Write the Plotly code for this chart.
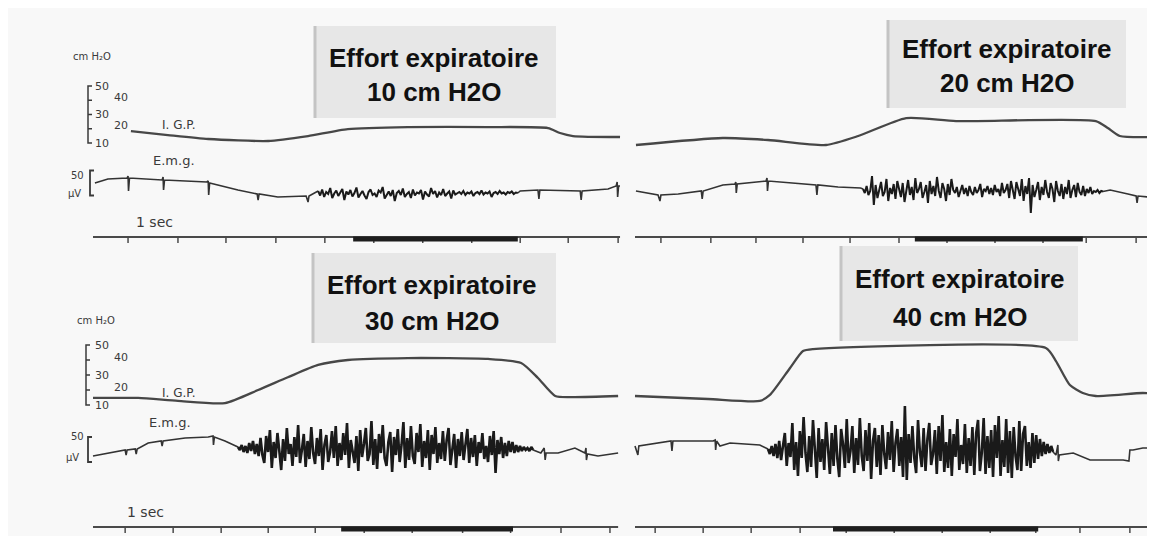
import plotly.graph_objects as go

W, H = 1155, 536

# ---------------- data (time in s, pressure in cm H2O, EMG in µV) ----------------
TITLE_TEXT = "Effort expiratoire"
EFFORTS = ["10 cm H2O", "20 cm H2O", "30 cm H2O", "40 cm H2O"]
PRESSURE_SCALE = [10, 20, 30, 40, 50]
EMG_SCALE = 50

# I.G.P. traces
igp_t_1 = [0.79, 1.56, 2.40, 3.65, 4.48, 5.31, 6.56, 8.23, 9.48, 9.73, 10.0, 10.98]
igp_v_1 = [18.4, 15.6, 12.8, 11.4, 14.9, 19.8, 21.2, 21.2, 20.5, 17.0, 14.9, 14.2]
igp_t_2 = [0.02, 1.83, 2.77, 3.98, 4.65, 5.65, 6.69, 9.60, 9.85, 10.10, 10.90]
igp_v_2 = [8.6, 13.5, 12.1, 8.6, 14.9, 27.5, 25.4, 25.4, 20.5, 14.9, 14.2]
igp_t_3 = [0, 0.94, 1.77, 2.75, 3.44, 4.06, 4.69, 5.31, 6.56, 8.23, 8.92, 9.27, 9.63, 10.0, 10.94]
igp_v_3 = [14.7, 14.7, 12.7, 11.3, 20.0, 28.5, 36.7, 40.0, 41.3, 40.7, 38.0, 28.0, 16.0, 15.3, 16.0]
igp_t_4 = [0, 1.52, 2.60, 2.81, 3.23, 3.50, 3.71, 8.56, 8.77, 9.06, 9.33, 9.60, 10.58, 10.90]
igp_v_4 = [16, 14, 12.7, 16.7, 34.7, 46, 47.3, 48, 39.3, 23.3, 18, 16, 18, 17.3]

# E.m.g. baseline (outside the burst, incl. the small time pips)
emg_t_1 = [0.04, 0.31, 0.71, 0.73, 0.74, 0.76, 1.44, 1.46, 1.47, 1.49, 2.37, 2.40, 2.41, 2.43,
           3.02, 3.42, 3.44, 3.46, 3.85, 4.44, 4.48, 4.50, 8.9, 9.27, 9.29, 9.31, 10.15, 10.17,
           10.19, 10.73, 10.9, 10.92, 10.93, 10.95, 10.98]
emg_v_1 = [10, 18, 20, 24, -6, 20, 16, 22, -4, 16, 12, 14, -14, 10, -4, -12, -24, -12, -18, -16,
           -28, -16, -6, -4, -22, -4, -6, -24, -6, -2, 4, 12, -18, 4, 4]
emg_t_2 = [0.02, 0.48, 0.52, 0.54, 0.9, 1.38, 1.40, 1.42, 1.83, 2.08, 2.10, 2.11, 2.13, 2.73,
           2.75, 2.76, 2.78, 3.29, 3.77, 3.79, 3.81, 4.23, 4.70, 9.80, 9.90, 10.27, 10.44, 10.46,
           10.48, 10.9]
emg_v_2 = [-6, -14, -26, -14, -12, -6, -22, -6, 6, 8, 12, -10, 8, 14, 20, -6, 14, 10, 6, -14, 6,
           2, 0, -6, -4, -12, -16, -30, -16, -20]
emg_t_3 = [0, 0.31, 0.67, 0.69, 0.71, 0.88, 0.90, 0.92, 1.15, 1.42, 1.44, 1.46, 1.92, 2.40, 2.50,
           2.51, 2.53, 2.75, 2.96, 9.33, 9.40, 9.42, 9.44, 9.69, 10.04, 10.25, 10.27, 10.28, 10.30,
           10.52, 10.94]
emg_v_3 = [-16, -10, -4, -14, -4, -2, -12, -2, 10, 14, 4, 14, 20, 22, 24, 6, 22, 14, 4, -10, 0,
           -24, -10, -10, 0, -10, 0, -24, -12, -16, -10]
emg_t_4 = [0, 0.06, 0.08, 0.44, 0.75, 0.77, 0.79, 1.63, 1.67, 1.68, 1.70, 1.77, 1.98, 2.60, 8.77,
           8.81, 8.82, 8.84, 9.13, 9.48, 10.17, 10.29, 10.31, 10.375, 10.58, 10.9]
emg_v_4 = [4, -14, 4, 10, 14, -6, 14, 14, 16, -4, 14, 4, 10, 6, -14, 6, -26, -14, -10, -24, -24,
           -26, -4, -4, 0, 0]

# E.m.g. bursts: (start s, end s) and samples in µV, read along the burst
burst_span_1 = (4.69, 8.85)
burst_1 = [-6, -15, -3, -18, -8, -12, 0, -20, -11, -5, -16, -9, -2, -24, -7, -13, -4, -17, -10, 1,
           -19, -12, -6, -15, -22, -8, -3, -14, -11, -18, -5, -9, 2, -21, -13, -7, -16, -4, -26, -10,
           -6, -14, -1, -18, -12, -8, -20, -3, -15, -9, -11, -4, -23, -7, -13, -17, 0, -12, -6, -19,
           -9, -14, -2, -16, -11, -7, -21, -5, -13, -10, -8, -12, -6, -14, -9, -11, -7, -16, -10, -8,
           -12, -5, -13, -9, -11, -7, -18, -10, -8, -12, -6, -11, -9, -13, -8, -10, -7, -12, -9, -10]
burst_span_2 = (4.75, 9.75)
burst_2 = [-2, -10, 4, -14, -6, 24, -34, 6, -20, -2, 12, -16, -8, 18, -26, 0, -12, 8, -22, 14,
           -4, -18, 10, -28, -6, 16, -14, 2, -24, 20, -10, -2, 12, -20, -8, 6, -30, 14, -12, 4,
           -16, 22, -6, -20, 10, -2, -26, 8, -14, 18, -4, -10, 2, -18, -6, 6, -12, 0, -16, 4,
           -8, -14, 2, -10, -4, 8, -18, -2, -6, 4, -12, 0, -14, 6, -8, -2, -16, 10, -10, -4,
           8, -20, 14, -6, -22, 12, -2, -16, 18, -26, 4, -12, 20, -50, 6, -18, -4, 12, -24, 2,
           -14, 16, -8, -20, 10, -2, -28, 14, -6, -16, 8, -22, 2, -12, 16, -20, -4, 6, -18, 10,
           -8, -14, 4, -16, -2, -10, 2, -12, -6, -8, -4, -10, -6, -7]
burst_span_3 = (3.02, 9.17)
burst_3 = [2, -4, 6, -8, 4, -10, 10, -6, 14, -12, 8, -16, 20, -14,
           -30, 24, -8, 36, -40, 12, -20, 30, -6, -44, 18, -26, 40, -12, 8, -36, 22, -18, 46, -30,
           -4, 28, -38, 14, -22, 42, -10, -32, 20, -16, 38, -44, 6, 26, -28, -8, 34, -20, 44, -36,
           10, -24, 30, -14, 50, -40, 16, -6, -30, 24, -46, 36, -18, 8, 40, -26, -12, 54, -34, 18,
           -42, 28, -10, 46, -20, -36, 12, 32, -48, 22, -14, 38, -28, 6, 52, -40, 20, -24, 44, -16,
           -32, 30, -8, 48, -38, 14, -20, 36, -44, 26, -12, 42, -30, 10, -22, 34, -26, 16, 40, -34,
           -6, 28, -40, 18, -16, 32, -24, 8, 38, -30, 20, -18, 26, -36, 12, -10, 30, -22, 4, -28,
           24, -14, 34, -50, 16, -12, 22, -20, 10, -16, 14, -8, 12, -10, 6, -8, 4, -6, 2, -4,
           0, -6, 2, -4]
burst_span_4 = (2.77, 8.71)
burst_4 = [-2, -12, 4, -16, 8, -20, 14, -24, 4, 30, -36, 10, -18,
           50, -44, 12, -56, 34, -20, 62, -10, -48, 24, -38, 56, -14, -60, 40, -28, 18,
           -44, 52, -8, -52, 30, -36, 46, -22, -58, 38, 8, -40, 58, -30, -6, 44, -50, 20, -34, 60,
           -16, -46, 36, -26, 50, -62, 14, 40, -38, 26, -54, 46, -12, -42, 32, -24, 54, -48, 10, 38,
           -36, 22, -58, 84, -64, 28, -30, 44, -20, -50, 56, -8, -38, 40, -46, 18, 50, -34, -12, 36,
           -52, 44, -26, 66, -48, 12, -40, 38, -56, 28, -18, 58, -44, 6, -32, 48, -50, 20, -36, 42,
           -54, 30, 56, -46, -10, 60, -52, 24, -40, 36, -58, 46, -20, 64, -56, 16, -38, 58, -50, 34,
           -60, 42, -16, -44, 54, -46, 28, 44, -36, 12, -40, 30, -30, 26, -22, 18, -16, 12, -12, 8,
           -10, 4, -8]

# time marker: length of trace, 1 s pips, and the thick effort bar
time_end = [10.98, 10.9, 10.94, 10.9]
ticks_1 = [0.73, 1.77, 2.77, 3.81, 4.83, 5.85, 6.87, 7.89, 8.9, 9.9, 10.94]
ticks_2 = [0.54, 1.58, 2.52, 3.5, 4.48, 5.5, 6.5, 7.5, 8.5, 9.4, 10.44]
ticks_3 = [0.67, 1.67, 2.67, 3.65, 4.63, 5.65, 6.65, 7.7, 8.7, 9.75, 10.77]
ticks_4 = [0.42, 1.42, 2.42, 3.44, 4.4, 5.4, 6.4, 7.4, 8.35, 9.27, 10.31]
bar_1 = (5.42, 8.85)
bar_2 = (5.83, 9.33)
bar_3 = (5.17, 8.75)
bar_4 = (4.125, 8.40)

# ---------------- layout geometry (pixels) ----------------
PX_PER_S = 48
SIDE_T0 = [85, 627]
ROWS = [
    dict(p10=135, cm=1.425, emg0=180, uv=0.5, mark=229, bracket=80, emg_br=82, emg_lo=-15, burst_w=2.0),
    dict(p10=397, cm=1.5, emg0=440, uv=0.5, mark=519, bracket=78, emg_br=80, emg_lo=-28, burst_w=2.6),
]
BOXES = [(307, 18, 548, 110), (880, 12, 1118, 100), (305, 245, 548, 335), (833, 238, 1070, 333)]
TITLE_POS = [((426, 50), (426, 84)), ((999, 41), (999, 75)),
             ((424, 277), (424, 313)), ((952, 271), (952, 309))]
LABELS = [
    [("cm H₂O", 84, 48, 10), ("I. G.P.", 170, 117, 12), ("E.m.g.", 166, 153, 13),
     ("1 sec", 146, 214, 14), ("50", 69, 167, 10), ("μV", 66, 186, 10)],
    [("cm H₂O", 88, 312, 10), ("I. G.P.", 170, 385, 12), ("E.m.g.", 162, 414, 13),
     ("1 sec", 137, 504, 14), ("50", 69, 428, 10), ("μV", 64, 449, 10)],
]

INK = "#3a3a3a"
LABEL_FONT = "DejaVu Sans"


def px(x, y):
    return x / W, 1 - y / H


def t_of_px(x, side):
    return (x - SIDE_T0[side]) / PX_PER_S


panels = [
    dict(igp=(igp_t_1, igp_v_1), emg=(emg_t_1, emg_v_1), burst=(burst_span_1, burst_1), ticks=ticks_1, bar=bar_1),
    dict(igp=(igp_t_2, igp_v_2), emg=(emg_t_2, emg_v_2), burst=(burst_span_2, burst_2), ticks=ticks_2, bar=bar_2),
    dict(igp=(igp_t_3, igp_v_3), emg=(emg_t_3, emg_v_3), burst=(burst_span_3, burst_3), ticks=ticks_3, bar=bar_3),
    dict(igp=(igp_t_4, igp_v_4), emg=(emg_t_4, emg_v_4), burst=(burst_span_4, burst_4), ticks=ticks_4, bar=bar_4),
]


def emg_parts(base_t, base_v, span, burst):
    """baseline (with a gap over the burst) and the burst samples"""
    t0, t1 = span
    step = (t1 - t0) / (len(burst) - 1)
    pre = [(t, v) for t, v in zip(base_t, base_v) if t < t0]
    post = [(t, v) for t, v in zip(base_t, base_v) if t > t1]
    mid = [(t0 + i * step, v) for i, v in enumerate(burst)]
    base = pre + [mid[0], (None, None), mid[-1]] + post
    return ([p[0] for p in base], [p[1] for p in base]), ([p[0] for p in mid], [p[1] for p in mid])


def yname(k):
    return "y" if k == 1 else "y%d" % k


fig = go.Figure()
annotations = []
shapes = []

for i, p in enumerate(panels):
    row, side = divmod(i, 2)
    g = ROWS[row]
    xa = "x" if side == 0 else "x2"
    y_igp, y_emg, y_mark = (yname(3 * row + k) for k in (1, 2, 3))

    # I.G.P.
    fig.add_trace(go.Scatter(x=p["igp"][0], y=p["igp"][1], xaxis=xa, yaxis=y_igp, mode="lines",
                             line=dict(color="#474747", width=2.3, shape="spline", smoothing=0.6),
                             hoverinfo="skip"))
    # E.m.g.
    (bt, bv), (mt, mv) = emg_parts(p["emg"][0], p["emg"][1], *p["burst"])
    fig.add_trace(go.Scatter(x=bt, y=bv, xaxis=xa, yaxis=y_emg, mode="lines",
                             line=dict(color="#333333", width=1.6), hoverinfo="skip"))
    fig.add_trace(go.Scatter(x=mt, y=mv, xaxis=xa, yaxis=y_emg, mode="lines",
                             line=dict(color="#1a1a1a", width=g["burst_w"]), hoverinfo="skip"))
    # time line
    fig.add_trace(go.Scatter(x=[0, time_end[i]], y=[0, 0], xaxis=xa, yaxis=y_mark, mode="lines",
                             line=dict(color="#4a4a4a", width=2), hoverinfo="skip"))
    fig.add_trace(go.Scatter(x=p["ticks"], y=[-2.5] * len(p["ticks"]), xaxis=xa, yaxis=y_mark,
                             mode="markers",
                             marker=dict(symbol="line-ns", size=5, line=dict(color="#4a4a4a", width=1.5)),
                             hoverinfo="skip"))
    fig.add_trace(go.Scatter(x=list(p["bar"]), y=[-2, -2], xaxis=xa, yaxis=y_mark, mode="lines",
                             line=dict(color="#1e1e1e", width=5), hoverinfo="skip"))

    # title box
    x0, y0, x1, y1 = BOXES[i]
    a0, b0 = px(x0, y0)
    a1, b1 = px(x1, y1)
    shapes.append(dict(type="rect", xref="paper", yref="paper", x0=a0, x1=a1, y0=b1, y1=b0,
                       fillcolor="#e7e7e7", line=dict(width=0), layer="below"))
    shapes.append(dict(type="line", xref="paper", yref="paper", x0=a0, x1=a0, y0=b1, y1=b0,
                       line=dict(color="#c4c4c4", width=3), layer="below"))
    for text, pos in zip([TITLE_TEXT, EFFORTS[i]], TITLE_POS[i]):
        tx, ty = px(*pos)
        annotations.append(dict(xref="paper", yref="paper", x=tx, y=ty, showarrow=False,
                                text="<b>%s</b>" % text,
                                font=dict(family="Liberation Sans", size=26, color="#111111"),
                                xanchor="center", yanchor="middle"))

    if side == 0:
        # pressure calibration bracket
        bx = t_of_px(g["bracket"], 0)
        tk = 4 / PX_PER_S
        lo, hi = PRESSURE_SCALE[0], PRESSURE_SCALE[-1]
        bxs = [bx + tk, bx, bx, bx + tk]
        bys = [hi, hi, lo, lo]
        for v in PRESSURE_SCALE[1:-1]:
            bxs += [None, bx, bx + tk]
            bys += [None, v, v]
        fig.add_trace(go.Scatter(x=bxs, y=bys, xaxis="x", yaxis=y_igp, mode="lines",
                                 line=dict(color=INK, width=1.5), hoverinfo="skip"))
        for k, v in enumerate(reversed(PRESSURE_SCALE)):
            right = k % 2 == 1
            annotations.append(dict(xref="paper", yref=y_igp, x=(104 if right else 85) / W,
                                    y=v + (3 / g["cm"] if right else 0), text=str(v),
                                    showarrow=False, xanchor="left", yanchor="middle",
                                    font=dict(family=LABEL_FONT, size=11, color=INK)))
        # EMG calibration bracket
        ex = t_of_px(g["emg_br"], 0)
        elo, ehi = g["emg_lo"], g["emg_lo"] + EMG_SCALE
        fig.add_trace(go.Scatter(x=[ex + tk, ex, ex, ex + tk], y=[ehi, ehi, elo, elo], xaxis="x",
                                 yaxis=y_emg, mode="lines", line=dict(color=INK, width=1.8),
                                 hoverinfo="skip"))
        for text, lx, ly, size in LABELS[row]:
            ax, ay = px(lx, ly)
            annotations.append(dict(xref="paper", yref="paper", x=ax, y=ay, text=text,
                                    showarrow=False, xanchor="center", yanchor="middle",
                                    font=dict(family=LABEL_FONT, size=size, color=INK)))

layout = dict(width=W, height=H, margin=dict(l=0, r=0, t=0, b=0), paper_bgcolor="#f8f8f8",
              plot_bgcolor="rgba(0,0,0,0)", showlegend=False, shapes=shapes,
              annotations=annotations)
for side, t0 in enumerate(SIDE_T0):
    layout["xaxis" if side == 0 else "xaxis2"] = dict(
        range=[-t0 / PX_PER_S, (W - t0) / PX_PER_S], domain=[0, 1], visible=False,
        fixedrange=True, anchor="y")
for row, g in enumerate(ROWS):
    ranges = [
        [10 + (g["p10"] - H) / g["cm"], 10 + g["p10"] / g["cm"]],
        [(g["emg0"] - H) / g["uv"], g["emg0"] / g["uv"]],
        [g["mark"] - H, g["mark"]],
    ]
    for k, rng in enumerate(ranges):
        idx = 3 * row + k + 1
        name = "yaxis" if idx == 1 else "yaxis%d" % idx
        layout[name] = dict(range=rng, domain=[0, 1], visible=False, fixedrange=True, anchor="x")

fig.update_layout(**layout)
fig.write_html("out.html")
